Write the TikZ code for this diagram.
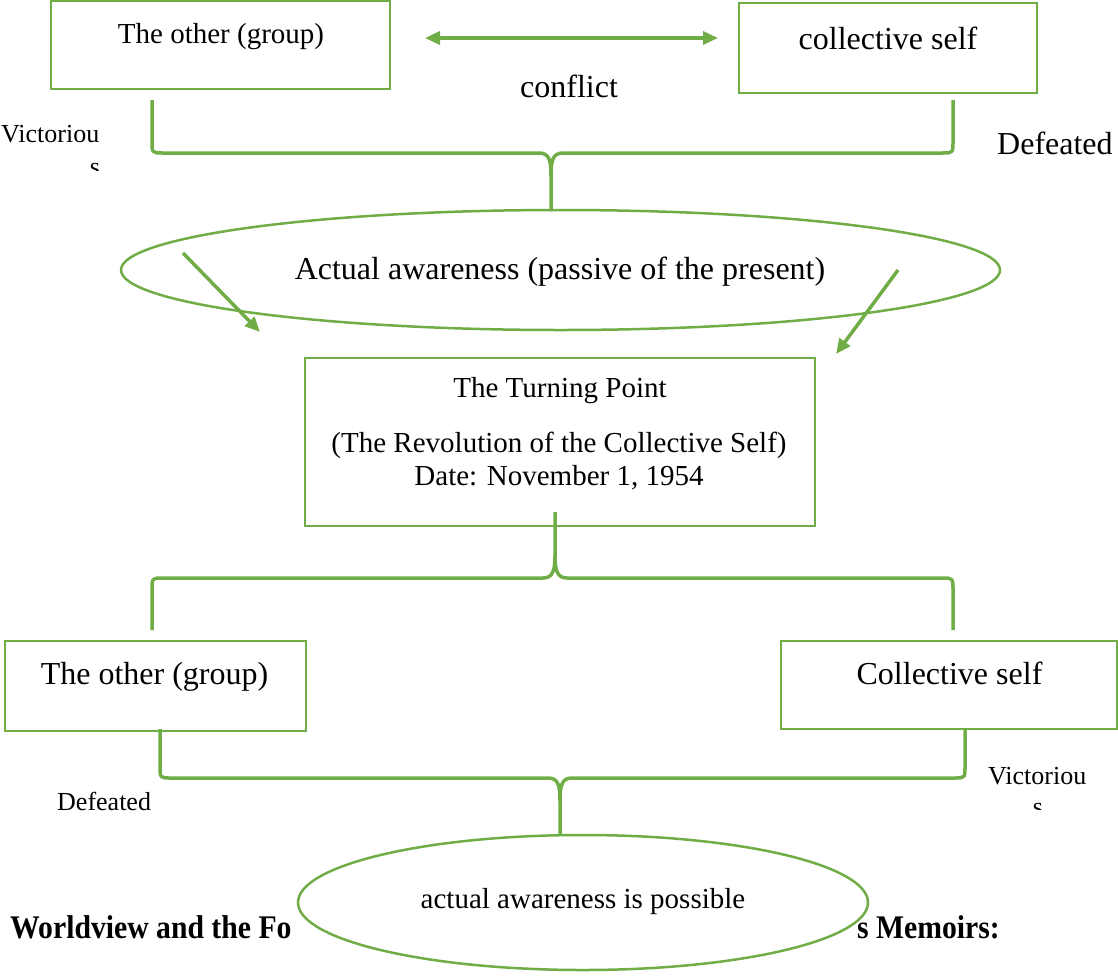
\documentclass[tikz,border=0pt]{standalone}
\usepackage{fontspec}
\setmainfont{Liberation Serif}
\usetikzlibrary{shapes.geometric,arrows.meta}
\definecolor{lgreen}{HTML}{70AD47}
\begin{document}
\begin{tikzpicture}[x=1pt,y=-1pt,
  box/.style={draw=lgreen,line width=2pt,inner sep=0pt,anchor=north west},
  oval/.style={draw=lgreen,line width=2.5pt,ellipse,inner sep=0pt},
  brace/.style={draw=lgreen,line width=3.5pt,line join=round},
  arr/.style={draw=lgreen,line width=3.5pt,-{Triangle[length=15pt,width=13pt]}},
  darr/.style={draw=lgreen,line width=3.5pt,{Triangle[length=15pt,width=13pt]}-{Triangle[length=15pt,width=13pt]}},
  lbl/.style={inner sep=0pt,anchor=base},
  head/.style={inner sep=0pt,font=\fontsize{33}{38}\selectfont\bfseries,xscale=0.9},
  f32/.style={font=\fontsize{32}{38}\selectfont},
  f29/.style={font=\fontsize{29}{34}\selectfont},
  f26/.style={font=\fontsize{26}{30}\selectfont}
]
\useasboundingbox (0,0) rectangle (1118,975);

% bold heading (partly covered by the lower ellipse)
\node[head,anchor=base west] (hl) at (10,938) {Worldview and the Fo};
\node[head,anchor=base east] (hr) at (1000,938) {s Memoirs:};

% top boxes
\node[box,minimum width=339pt,minimum height=88pt] (b1) at (50,0) {};
\node[lbl,f29] (t1) at (221,43) {The other (group)};
\node[box,minimum width=298pt,minimum height=90pt] (b2) at (738,2) {};
\node[lbl,f32] (t2) at (888,49) {collective self};

\coordinate (dl) at (425,38);
\coordinate (dr) at (718,38);
\draw[darr] (dl) -- (dr);
\node[lbl,f32] (conf) at (569,97) {conflict};

% side labels top
\node[lbl,f26,anchor=base west] (v1) at (1,142) {Victoriou};
\begin{scope}
\clip (70,150) rectangle (130,170);
\node[lbl,f26] (v1s) at (95,175) {s};
\end{scope}
\node[lbl,f32,anchor=base west] (d1) at (997,154) {Defeated};

% brace 1
\coordinate (a1) at (152,100);
\coordinate (a2) at (953,100);
\coordinate (a3) at (551,176);
\coordinate (a4) at (551,211);
\draw[brace] (a1) -- (152,141) .. controls (152,153) .. (163,153) -- (539,153) .. controls (549,153) and (551,160) .. (a3) -- (a4);
\draw[brace] (a2) -- (953,141) .. controls (953,153) .. (942,153) -- (563,153) .. controls (553,153) and (551,160) .. (a3);

% ellipse 1
\node[oval,minimum width=879pt,minimum height=120pt] (e1) at (560.5,270) {};
\node[lbl,f32] (te1) at (560,279) {Actual awareness (passive of the present)};

% turning point box
\node[box,minimum width=510pt,minimum height=168pt] (b3) at (304,357) {};
\node[lbl,f29] (t3a) at (560,397) {The Turning Point};
\node[lbl,f29] (t3b) at (559,452) {(The Revolution of the Collective Self)};
\node[lbl,f29] (t3c) at (559,485) {Date: November 1, 1954};

\coordinate (s1) at (183,253);
\coordinate (s2) at (898,270);
\coordinate (g1) at (260,332);
\coordinate (g2) at (836,354);
\draw[arr] (s1) -- (g1);
\draw[arr] (s2) -- (g2);

% brace 2
\coordinate (c0) at (555,512);
\coordinate (c1) at (555,555);
\coordinate (c2) at (152,630);
\coordinate (c3) at (953,630);
\draw[brace] (c0) -- (c1) .. controls (555,570) and (553,578) .. (543,578) -- (163,578) .. controls (152,578) .. (152,590) -- (c2);
\draw[brace] (c1) .. controls (555,570) and (557,578) .. (567,578) -- (942,578) .. controls (953,578) .. (953,590) -- (c3);

% lower boxes
\node[box,minimum width=301pt,minimum height=90pt] (b4) at (4,640) {};
\node[lbl,f32] (t4) at (154.5,684) {The other (group)};
\node[box,minimum width=336pt,minimum height=88pt] (b5) at (780,640) {};
\node[lbl,f32] (t5) at (949.5,684) {Collective self};

% brace 3
\coordinate (k1) at (160,729);
\coordinate (k2) at (965,729);
\coordinate (k3) at (560,801);
\coordinate (k4) at (560,836);
\draw[brace] (k1) -- (160,766) .. controls (160,778) .. (171,778) -- (548,778) .. controls (558,778) and (560,785) .. (k3) -- (k4);
\draw[brace] (k2) -- (965,766) .. controls (965,778) .. (954,778) -- (572,778) .. controls (562,778) and (560,785) .. (k3);

% side labels bottom
\node[lbl,f26,anchor=base west] (d2) at (57,810) {Defeated};
\node[lbl,f26,anchor=base west] (v2) at (988,784) {Victoriou};
\begin{scope}
\clip (1010,790) rectangle (1070,809);
\node[lbl,f26] (v2s) at (1038,815) {s};
\end{scope}

% ellipse 2
\node[oval,fill=white,minimum width=570pt,minimum height=135pt] (e2) at (583,902.5) {};
\node[lbl,f29] (te2) at (583,908) {actual awareness is possible};
\end{tikzpicture}
\end{document}
